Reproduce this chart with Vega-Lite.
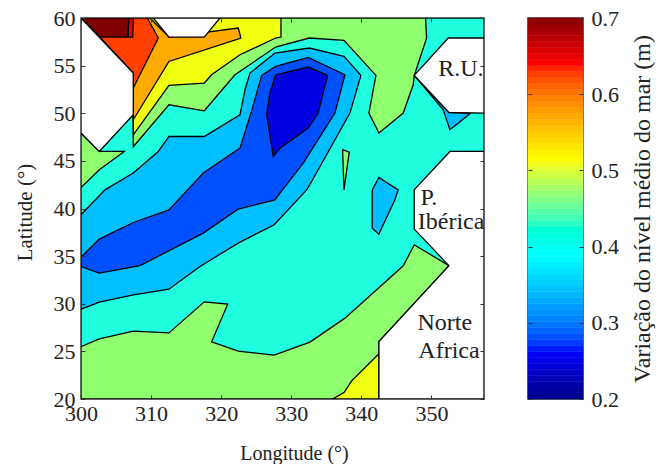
{"$schema":"https://vega.github.io/schema/vega-lite/v6.json","padding":{"left":13,"top":6,"right":0,"bottom":0},"background":"white","config":{"font":"Liberation Serif","view":{"stroke":"#333","strokeWidth":1.5}},"datasets":{"poly":[
{"p":"a","o":1,"b":"turq","lon":300,"lat":60},{"p":"a","o":2,"b":"turq","lon":357.5,"lat":60},{"p":"a","o":3,"b":"turq","lon":357.5,"lat":20},{"p":"a","o":4,"b":"turq","lon":300,"lat":20},
{"p":"b","o":1,"b":"green","lon":300,"lat":25.5},{"p":"b","o":2,"b":"green","lon":302.61,"lat":26.31},{"p":"b","o":3,"b":"green","lon":307.46,"lat":27.12},{"p":"b","o":4,"b":"green","lon":312.55,"lat":26.94},{"p":"b","o":5,"b":"green","lon":317.59,"lat":30.2},{"p":"b","o":6,"b":"green","lon":320.93,"lat":29.96},{"p":"b","o":7,"b":"green","lon":318.64,"lat":26},{"p":"b","o":8,"b":"green","lon":322.44,"lat":25.02},{"p":"b","o":9,"b":"green","lon":327.57,"lat":24.6},{"p":"b","o":10,"b":"green","lon":332.67,"lat":25.97},{"p":"b","o":11,"b":"green","lon":337.66,"lat":28.49},{"p":"b","o":12,"b":"green","lon":345.98,"lat":33.98},{"p":"b","o":13,"b":"green","lon":347.55,"lat":36.19},{"p":"b","o":14,"b":"green","lon":352.5,"lat":34},{"p":"b","o":15,"b":"green","lon":342.51,"lat":26.03},{"p":"b","o":16,"b":"green","lon":342.51,"lat":20},{"p":"b","o":17,"b":"green","lon":300,"lat":20},
{"p":"c","o":1,"b":"yellow","lon":335.9,"lat":20},{"p":"c","o":2,"b":"yellow","lon":337.56,"lat":20.71},{"p":"c","o":3,"b":"yellow","lon":338.62,"lat":21.9},{"p":"c","o":4,"b":"yellow","lon":342.51,"lat":24.74},{"p":"c","o":5,"b":"yellow","lon":342.51,"lat":20},
{"p":"d","o":1,"b":"green","lon":307.46,"lat":46.48},{"p":"d","o":2,"b":"green","lon":312.55,"lat":50.89},{"p":"d","o":3,"b":"green","lon":317.59,"lat":50.26},{"p":"d","o":4,"b":"green","lon":321.97,"lat":54.04},{"p":"d","o":5,"b":"green","lon":327.77,"lat":56.95},{"p":"d","o":6,"b":"green","lon":332.57,"lat":57.9},{"p":"d","o":7,"b":"green","lon":337.52,"lat":57.65},{"p":"d","o":8,"b":"green","lon":342.08,"lat":53.97},{"p":"d","o":9,"b":"green","lon":341.08,"lat":50.02},{"p":"d","o":10,"b":"green","lon":342.51,"lat":47.92},{"p":"d","o":11,"b":"green","lon":345.98,"lat":50.02},{"p":"d","o":12,"b":"green","lon":347.4,"lat":52.99},{"p":"d","o":13,"b":"green","lon":347.55,"lat":53.97},{"p":"d","o":14,"b":"green","lon":349.31,"lat":57.9},{"p":"d","o":15,"b":"green","lon":349.17,"lat":60},{"p":"d","o":16,"b":"green","lon":307.46,"lat":60},
{"p":"e","o":1,"b":"yellow","lon":307.46,"lat":47.74},{"p":"e","o":2,"b":"yellow","lon":312.55,"lat":52.92},{"p":"e","o":3,"b":"yellow","lon":317.59,"lat":53.17},{"p":"e","o":4,"b":"yellow","lon":318.64,"lat":54.04},{"p":"e","o":5,"b":"yellow","lon":322.68,"lat":56.14},{"p":"e","o":6,"b":"yellow","lon":327.77,"lat":57.9},{"p":"e","o":7,"b":"yellow","lon":328.53,"lat":58},{"p":"e","o":8,"b":"yellow","lon":328.53,"lat":60},{"p":"e","o":9,"b":"yellow","lon":307.46,"lat":60},
{"p":"f","o":1,"b":"orange","lon":307.46,"lat":49.32},{"p":"f","o":2,"b":"orange","lon":312.55,"lat":55.44},{"p":"f","o":3,"b":"orange","lon":322.82,"lat":57.9},{"p":"f","o":4,"b":"orange","lon":322.44,"lat":58.95},{"p":"f","o":5,"b":"orange","lon":312.55,"lat":58},{"p":"f","o":6,"b":"orange","lon":309.84,"lat":60},{"p":"f","o":7,"b":"orange","lon":307.46,"lat":60},
{"p":"g","o":1,"b":"redorange","lon":300,"lat":60},{"p":"g","o":2,"b":"redorange","lon":309.46,"lat":60},{"p":"g","o":3,"b":"redorange","lon":311.03,"lat":57.9},{"p":"g","o":4,"b":"redorange","lon":307.46,"lat":52.65},{"p":"g","o":5,"b":"redorange","lon":307.46,"lat":54.22},{"p":"g","o":6,"b":"redorange","lon":302.81,"lat":57.9},
{"p":"h","o":1,"b":"red","lon":306.75,"lat":60},{"p":"h","o":2,"b":"red","lon":307.46,"lat":60},{"p":"h","o":3,"b":"red","lon":307.38,"lat":58},{"p":"h","o":4,"b":"red","lon":306.75,"lat":58},
{"p":"i","o":1,"b":"dark","lon":300,"lat":60},{"p":"i","o":2,"b":"dark","lon":306.89,"lat":60},{"p":"i","o":3,"b":"dark","lon":306.6,"lat":58},{"p":"i","o":4,"b":"dark","lon":302.71,"lat":58},
{"p":"j","o":1,"b":"sky","lon":300,"lat":39.34},{"p":"j","o":2,"b":"sky","lon":300.81,"lat":39.97},{"p":"j","o":3,"b":"sky","lon":303.42,"lat":41.96},{"p":"j","o":4,"b":"sky","lon":307.46,"lat":43.72},{"p":"j","o":5,"b":"sky","lon":311.03,"lat":45.99},{"p":"j","o":6,"b":"sky","lon":312.55,"lat":47.56},{"p":"j","o":7,"b":"sky","lon":317.59,"lat":47.56},{"p":"j","o":8,"b":"sky","lon":322.68,"lat":49.84},{"p":"j","o":9,"b":"sky","lon":323.4,"lat":52.47},{"p":"j","o":10,"b":"sky","lon":324.11,"lat":54.22},{"p":"j","o":11,"b":"sky","lon":327.67,"lat":56.32},{"p":"j","o":12,"b":"sky","lon":332.57,"lat":56.85},{"p":"j","o":13,"b":"sky","lon":337.52,"lat":55.97},{"p":"j","o":14,"b":"sky","lon":339.94,"lat":53.97},{"p":"j","o":15,"b":"sky","lon":338.37,"lat":50.02},{"p":"j","o":16,"b":"sky","lon":332.91,"lat":42.84},{"p":"j","o":17,"b":"sky","lon":332.2,"lat":41.96},{"p":"j","o":18,"b":"sky","lon":327.57,"lat":38.29},{"p":"j","o":19,"b":"sky","lon":322.44,"lat":36.37},{"p":"j","o":20,"b":"sky","lon":316.98,"lat":33.91},{"p":"j","o":21,"b":"sky","lon":312.55,"lat":31.53},{"p":"j","o":22,"b":"sky","lon":307.46,"lat":30.93},{"p":"j","o":23,"b":"sky","lon":302.61,"lat":30.17},{"p":"j","o":24,"b":"sky","lon":300,"lat":29.43},
{"p":"k","o":1,"b":"blue","lon":300,"lat":34.9},{"p":"k","o":2,"b":"blue","lon":302.61,"lat":36.79},{"p":"k","o":3,"b":"blue","lon":307.46,"lat":38.53},{"p":"k","o":4,"b":"blue","lon":312.55,"lat":39.86},{"p":"k","o":5,"b":"blue","lon":313.88,"lat":40.91},{"p":"k","o":6,"b":"blue","lon":317.45,"lat":43.72},{"p":"k","o":7,"b":"blue","lon":322.68,"lat":46.34},{"p":"k","o":8,"b":"blue","lon":324.25,"lat":50.02},{"p":"k","o":9,"b":"blue","lon":325.78,"lat":53.97},{"p":"k","o":10,"b":"blue","lon":327.77,"lat":54.92},{"p":"k","o":11,"b":"blue","lon":332.43,"lat":55.86},{"p":"k","o":12,"b":"blue","lon":337.66,"lat":54.04},{"p":"k","o":13,"b":"blue","lon":336.23,"lat":50.02},{"p":"k","o":14,"b":"blue","lon":331.71,"lat":44.77},{"p":"k","o":15,"b":"blue","lon":328.39,"lat":41.62},{"p":"k","o":16,"b":"blue","lon":327.67,"lat":40.91},{"p":"k","o":17,"b":"blue","lon":322.44,"lat":39.94},{"p":"k","o":18,"b":"blue","lon":317.45,"lat":37.42},{"p":"k","o":19,"b":"blue","lon":308.42,"lat":34.01},{"p":"k","o":20,"b":"blue","lon":302.61,"lat":33.21},{"p":"k","o":21,"b":"blue","lon":300,"lat":33.91},
{"p":"l","o":1,"b":"deep","lon":327.77,"lat":54.04},{"p":"l","o":2,"b":"deep","lon":332.43,"lat":54.85},{"p":"l","o":3,"b":"deep","lon":335.19,"lat":53.97},{"p":"l","o":4,"b":"deep","lon":333.85,"lat":50.02},{"p":"l","o":5,"b":"deep","lon":332.43,"lat":48.45},{"p":"l","o":6,"b":"deep","lon":328.39,"lat":46.34},{"p":"l","o":7,"b":"deep","lon":327.43,"lat":45.46},{"p":"l","o":8,"b":"deep","lon":326.49,"lat":49.84},{"p":"l","o":9,"b":"deep","lon":326.96,"lat":52.12},
{"p":"m","o":1,"b":"green","lon":337.33,"lat":46.17},{"p":"m","o":2,"b":"green","lon":338.27,"lat":45.92},{"p":"m","o":3,"b":"green","lon":337.52,"lat":41.96},
{"p":"n","o":1,"b":"sky","lon":342.51,"lat":43.26},{"p":"n","o":2,"b":"sky","lon":345.26,"lat":41.96},{"p":"n","o":3,"b":"sky","lon":344.79,"lat":40.91},{"p":"n","o":4,"b":"sky","lon":343.12,"lat":38.29},{"p":"n","o":5,"b":"sky","lon":342.51,"lat":37.31},{"p":"n","o":6,"b":"sky","lon":341.55,"lat":37.94},{"p":"n","o":7,"b":"sky","lon":341.55,"lat":41.96},
{"p":"o","o":1,"b":"green","lon":300,"lat":47.92},{"p":"o","o":2,"b":"green","lon":302.61,"lat":45.99},{"p":"o","o":3,"b":"green","lon":306.18,"lat":45.99},{"p":"o","o":4,"b":"green","lon":302.61,"lat":44.06},{"p":"o","o":5,"b":"green","lon":300,"lat":42.2},
{"p":"q","o":1,"b":"white","lon":300,"lat":60},{"p":"q","o":2,"b":"white","lon":307.46,"lat":54.22},{"p":"q","o":3,"b":"white","lon":307.46,"lat":49.84},{"p":"q","o":4,"b":"white","lon":302.61,"lat":45.99},{"p":"q","o":5,"b":"white","lon":300,"lat":47.92},
{"p":"r","o":1,"b":"white","lon":310.31,"lat":60},{"p":"r","o":2,"b":"white","lon":312.55,"lat":58},{"p":"r","o":3,"b":"white","lon":317.59,"lat":58},{"p":"r","o":4,"b":"white","lon":319.83,"lat":60},
{"p":"s","o":1,"b":"sky","lon":347.55,"lat":53.97},{"p":"s","o":2,"b":"sky","lon":351.68,"lat":50.37},{"p":"s","o":3,"b":"sky","lon":352.64,"lat":48.27},{"p":"s","o":4,"b":"sky","lon":355.49,"lat":49.95},{"p":"s","o":5,"b":"sky","lon":352.5,"lat":50.08},
{"p":"t","o":1,"b":"white","lon":347.55,"lat":53.97},{"p":"t","o":2,"b":"white","lon":352.4,"lat":57.9},{"p":"t","o":3,"b":"white","lon":357.5,"lat":57.9},{"p":"t","o":4,"b":"white","lon":357.5,"lat":50.02},{"p":"t","o":5,"b":"white","lon":352.5,"lat":50.08},
{"p":"u","o":1,"b":"white","lon":352.64,"lat":45.99},{"p":"u","o":2,"b":"white","lon":347.55,"lat":41.96},{"p":"u","o":3,"b":"white","lon":347.55,"lat":37.84},{"p":"u","o":4,"b":"white","lon":352.5,"lat":34},{"p":"u","o":5,"b":"white","lon":342.51,"lat":26.03},{"p":"u","o":6,"b":"white","lon":342.51,"lat":20},{"p":"u","o":7,"b":"white","lon":357.5,"lat":20},{"p":"u","o":8,"b":"white","lon":357.5,"lat":45.99}
],"labels":[{"t":"R.U.","lon":354.2,"lat":54.6},{"t":"P.","lon":349.64,"lat":41.12},{"t":"Ibérica","lon":352.8,"lat":38.6},{"t":"Norte","lon":351.9,"lat":28},{"t":"Africa","lon":352.5,"lat":25}],
"cbar":[{"lo":0.2,"hi":0.2078},{"lo":0.2078,"hi":0.2156},{"lo":0.2156,"hi":0.2234},{"lo":0.2234,"hi":0.2313},{"lo":0.2313,"hi":0.2391},{"lo":0.2391,"hi":0.2469},{"lo":0.2469,"hi":0.2547},{"lo":0.2547,"hi":0.2625},{"lo":0.2625,"hi":0.2703},{"lo":0.2703,"hi":0.2781},{"lo":0.2781,"hi":0.2859},{"lo":0.2859,"hi":0.2938},{"lo":0.2938,"hi":0.3016},{"lo":0.3016,"hi":0.3094},{"lo":0.3094,"hi":0.3172},{"lo":0.3172,"hi":0.325},{"lo":0.325,"hi":0.3328},{"lo":0.3328,"hi":0.3406},{"lo":0.3406,"hi":0.3484},{"lo":0.3484,"hi":0.3563},{"lo":0.3563,"hi":0.3641},{"lo":0.3641,"hi":0.3719},{"lo":0.3719,"hi":0.3797},{"lo":0.3797,"hi":0.3875},{"lo":0.3875,"hi":0.3953},{"lo":0.3953,"hi":0.4031},{"lo":0.4031,"hi":0.4109},{"lo":0.4109,"hi":0.4188},{"lo":0.4188,"hi":0.4266},{"lo":0.4266,"hi":0.4344},{"lo":0.4344,"hi":0.4422},{"lo":0.4422,"hi":0.45},{"lo":0.45,"hi":0.4578},{"lo":0.4578,"hi":0.4656},{"lo":0.4656,"hi":0.4734},{"lo":0.4734,"hi":0.4813},{"lo":0.4813,"hi":0.4891},{"lo":0.4891,"hi":0.4969},{"lo":0.4969,"hi":0.5047},{"lo":0.5047,"hi":0.5125},{"lo":0.5125,"hi":0.5203},{"lo":0.5203,"hi":0.5281},{"lo":0.5281,"hi":0.5359},{"lo":0.5359,"hi":0.5438},{"lo":0.5438,"hi":0.5516},{"lo":0.5516,"hi":0.5594},{"lo":0.5594,"hi":0.5672},{"lo":0.5672,"hi":0.575},{"lo":0.575,"hi":0.5828},{"lo":0.5828,"hi":0.5906},{"lo":0.5906,"hi":0.5984},{"lo":0.5984,"hi":0.6063},{"lo":0.6063,"hi":0.6141},{"lo":0.6141,"hi":0.6219},{"lo":0.6219,"hi":0.6297},{"lo":0.6297,"hi":0.6375},{"lo":0.6375,"hi":0.6453},{"lo":0.6453,"hi":0.6531},{"lo":0.6531,"hi":0.6609},{"lo":0.6609,"hi":0.6688},{"lo":0.6688,"hi":0.6766},{"lo":0.6766,"hi":0.6844},{"lo":0.6844,"hi":0.6922},{"lo":0.6922,"hi":0.7}]},
"hconcat":[
{"width":403,"height":381,"resolve":{"axis":{"x":"independent","y":"independent"}},"layer":[
{"data":{"name":"poly"},"mark":{"type":"line","stroke":"#000","strokeWidth":1.3,"interpolate":"linear-closed","clip":true},"encoding":{
"x":{"field":"lon","type":"quantitative","scale":{"domain":[300,357.5],"nice":false,"zero":false},"axis":{"orient":"bottom","title":"Longitude (°)","titleX":213,"values":[300,310,320,330,340,350],"format":"d","grid":false,"domain":false,"tickSize":-4,"tickColor":"#333","labelFontSize":22,"titleFontSize":20,"titleFontWeight":"normal","labelColor":"#222","titleColor":"#222","labelPadding":8,"titlePadding":19,"zindex":1,"labelFlush":false}},
"y":{"field":"lat","type":"quantitative","scale":{"domain":[20,60],"nice":false,"zero":false},"axis":{"orient":"left","title":"Latitude (°)","titleY":194,"values":[20,25,30,35,40,45,50,55,60],"format":"d","grid":false,"domain":false,"tickSize":-4,"tickColor":"#333","labelFontSize":22,"titleFontSize":21,"titleFontWeight":"normal","labelColor":"#222","titleColor":"#222","labelPadding":10,"titlePadding":18,"zindex":1}},
"order":{"field":"o","type":"quantitative"},"detail":{"field":"p"},
"fill":{"field":"b","type":"nominal","legend":null,"scale":{"domain":["turq","sky","blue","deep","green","yellow","orange","redorange","red","dark","white"],"range":["#1fffe0","#00bfff","#0050ff","#0000e0","#8fff70","#f0ff0f","#ffaa00","#ff4000","#f00000","#800000","#ffffff"]}}}},
{"data":{"name":"poly"},"mark":{"type":"point","opacity":0},"encoding":{
"x":{"field":"lon","type":"quantitative","axis":{"orient":"top","title":null,"labels":false,"values":[300,310,320,330,340,350],"grid":false,"domain":false,"tickSize":-4,"tickColor":"#333","zindex":1}},
"y":{"field":"lat","type":"quantitative","axis":{"orient":"right","title":null,"labels":false,"values":[20,25,30,35,40,45,50,55,60],"grid":false,"domain":false,"tickSize":-4,"tickColor":"#333","zindex":1}}}},
{"data":{"name":"labels"},"mark":{"type":"text","fontSize":24,"align":"center","baseline":"middle","color":"#222"},"encoding":{"x":{"field":"lon","type":"quantitative","axis":null},"y":{"field":"lat","type":"quantitative","axis":null},"text":{"field":"t"}}}
]},
{"width":55,"height":381,"resolve":{"axis":{"y":"independent"}},"layer":[
{"data":{"name":"cbar"},"mark":{"type":"rect","strokeWidth":0.5},"encoding":{
"x":{"datum":0,"type":"quantitative","scale":{"domain":[0,1]},"axis":null},"x2":{"datum":1},
"y":{"field":"lo","type":"quantitative","scale":{"domain":[0.2,0.7],"nice":false,"zero":false},"axis":{"orient":"right","title":"Variação do nível médio do mar (m)","titleAngle":270,"titleBaseline":"top","values":[0.2,0.3,0.4,0.5,0.6,0.7],"format":".1f","grid":false,"domain":false,"tickSize":-4,"tickColor":"#333","labelFontSize":22,"titleFontSize":24,"titleFontWeight":"normal","labelColor":"#222","titleColor":"#222","labelPadding":12,"titlePadding":12,"zindex":1}},
"y2":{"field":"hi"},
"fill":{"field":"lo","type":"quantitative","legend":null,"scale":{"domain":[0.2,0.26,0.385,0.51,0.635,0.7],"range":["#00008f","#0000ff","#00ffff","#ffff00","#ff0000","#800000"]}},
"stroke":{"field":"lo","type":"quantitative","legend":null,"scale":{"domain":[0.2,0.26,0.385,0.51,0.635,0.7],"range":["#00008f","#0000ff","#00ffff","#ffff00","#ff0000","#800000"]}}}},
{"data":{"name":"cbar"},"mark":{"type":"point","opacity":0},"encoding":{
"x":{"datum":0,"type":"quantitative","axis":null},
"y":{"field":"lo","type":"quantitative","axis":{"orient":"left","title":null,"labels":false,"values":[0.2,0.3,0.4,0.5,0.6,0.7],"grid":false,"domain":false,"tickSize":-4,"tickColor":"#333","zindex":1}}}}
]}
],"spacing":36}
